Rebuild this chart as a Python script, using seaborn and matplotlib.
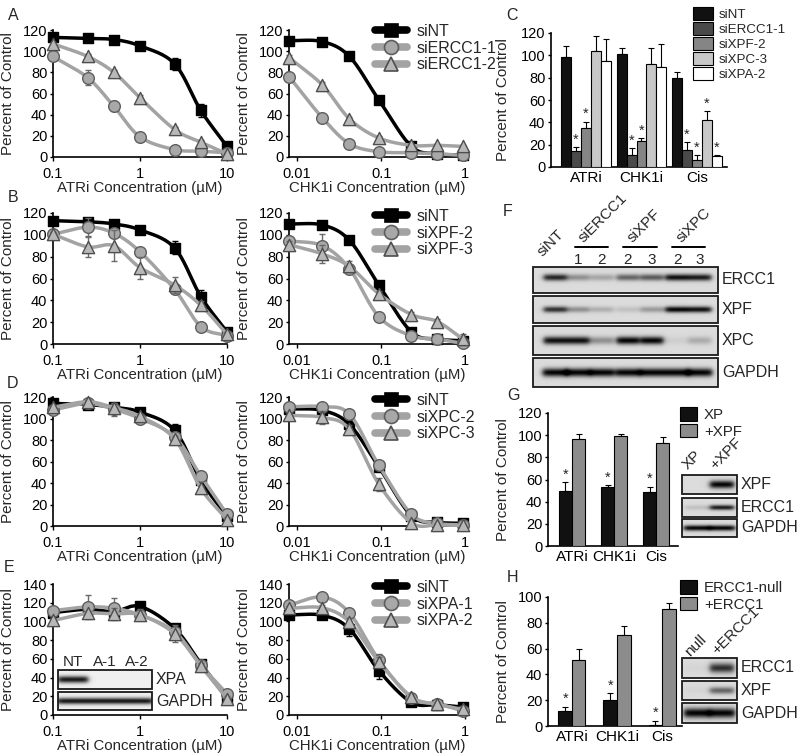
import numpy as np
import pandas as pd
import matplotlib
matplotlib.use("Agg")
import matplotlib.pyplot as plt
import seaborn as sns
from matplotlib.lines import Line2D
from matplotlib.patches import Patch, Rectangle
from matplotlib.container import BarContainer
from matplotlib.ticker import NullLocator

sns.set_style("ticks")
plt.rcParams["font.family"] = ["Liberation Sans", "DejaVu Sans"]

# ---------------- data ----------------
ATRI_CONC = [0.1, 0.25, 0.5, 1, 2.5, 5, 10]
CHK1_CONC = [0.008, 0.02, 0.042, 0.094, 0.23, 0.47, 0.94]

# Panel A (ERCC1)
A_atr_siNT = [113, 112, 111, 105, 88, 44, 10]
A_atr_siNT_err = [2, 2, 2, 2, 6, 6, 2]
A_atr_E1 = [95, 75, 48, 19, 7, 5.5, 4]
A_atr_E1_err = [2, 7, 5, 2, 1, 1, 1]
A_atr_E2 = [107, 95, 80, 56, 26, 14, 3]
A_atr_E2_err = [2, 2, 2, 3, 2, 2, 1]
A_chk_siNT = [110, 109, 95, 54, 10, 3, 2]
A_chk_siNT_err = [2, 2, 2, 2, 1, 1, 1]
A_chk_E1 = [76, 37, 12.5, 5, 4, 3, 1.5]
A_chk_E1_err = [2, 2, 2, 1, 1, 1, 1]
A_chk_E2 = [94, 68, 36, 18, 11, 11, 10]
A_chk_E2_err = [2, 3, 2, 2, 1, 1, 1]

# Panel B (XPF)
B_atr_siNT = [113, 112, 110, 104.5, 88, 43.5, 11]
B_atr_siNT_err = [2, 2, 2, 2, 6, 6, 2]
B_atr_F2 = [100.5, 107, 101.5, 84.5, 50, 16, 7.5]
B_atr_F2_err = [2, 8, 3, 3, 2, 2, 2]
B_atr_F3 = [100.5, 89, 90, 70, 54, 35.5, 9]
B_atr_F3_err = [2, 9, 14, 10, 7, 4, 2]
B_chk_siNT = [110, 109, 95, 54, 11, 4.5, 3]
B_chk_siNT_err = [2, 2, 2, 2, 1, 1, 1]
B_chk_F2 = [94.5, 90, 69, 25, 7.5, 4.5, 0.6]
B_chk_F2_err = [3, 11, 3, 2, 1, 1, 1]
B_chk_F3 = [91, 82.5, 71, 46, 27, 20.5, 4.5]
B_chk_F3_err = [3, 8, 5, 3, 2, 2, 5]

# Panel D (XPC)
D_atr_siNT = [114, 113, 110.5, 106, 89, 42.5, 9]
D_atr_siNT_err = [3, 2, 3, 3, 6, 3, 2]
D_atr_C2 = [108, 114, 108.5, 100, 83, 46.5, 11]
D_atr_C2_err = [2, 4, 6, 4, 3, 2, 2]
D_atr_C3 = [110.5, 115.5, 110, 102, 81, 35, 6]
D_atr_C3_err = [2, 2, 4, 2, 3, 2, 2]
D_chk_siNT = [109, 107.5, 94.5, 55, 9.5, 3.5, 2.5]
D_chk_siNT_err = [2, 2, 2, 3, 2, 1, 1]
D_chk_C2 = [111, 111, 104, 56.5, 11, 2.5, 1]
D_chk_C2_err = [2, 2, 2, 3, 2, 1, 1]
D_chk_C3 = [103, 101, 90, 39, 3, 1, 0.6]
D_chk_C3_err = [2, 6, 4, 6, 2, 1, 1]

# Panel E (XPA)
E_atr_siNT = [109.5, 113, 110.5, 116, 92.5, 55, 18]
E_atr_siNT_err = [3, 3, 3, 3, 4, 3, 3]
E_atr_A1 = [111.5, 115.5, 114, 107, 89, 53.5, 22.5]
E_atr_A1_err = [3, 13, 11, 4, 4, 3, 3]
E_atr_A2 = [101, 108.5, 108, 107, 87, 52.5, 17.5]
E_atr_A2_err = [3, 3, 6, 6, 9, 3, 3]
E_chk_siNT = [107, 106.5, 92, 47.5, 13.5, 11, 8.5]
E_chk_siNT_err = [4, 3, 8, 9, 3, 2, 2]
E_chk_A1 = [117.5, 126, 109, 59, 18.5, 12, 4.5]
E_chk_A1_err = [3, 2, 4, 6, 3, 2, 2]
E_chk_A2 = [114, 114.5, 99.5, 57, 19.5, 11.5, 6]
E_chk_A2_err = [3, 3, 4, 5, 3, 2, 2]

# Panel C (bars)
C_DRUGS = ["ATRi", "CHK1i", "Cis"]
C_GROUPS = ["siNT", "siERCC1-1", "siXPF-2", "siXPC-3", "siXPA-2"]
C_siNT = [98.5, 101, 79.5]
C_siNT_err = [9.5, 5.5, 6]
C_siERCC1 = [14.5, 11, 15.5]
C_siERCC1_err = [3, 6, 7]
C_siXPF = [35, 23.5, 6.5]
C_siXPF_err = [5.5, 2.5, 4]
C_siXPC = [104, 92.5, 42]
C_siXPC_err = [13, 14, 8]
C_siXPA = [94.5, 89.5, 10]
C_siXPA_err = [20.5, 20.5, 0.3]
C_STAR = [[False, True, True, False, False],
          [False, True, True, False, False],
          [False, True, True, True, True]]

# Panel G
G_GROUPS = ["XP", "+XPF"]
G_XP = [50, 53, 49]
G_XP_err = [7.5, 2, 4.5]
G_XPF = [96.5, 99.5, 93]
G_XPF_err = [5, 2, 5]

# Panel H
H_GROUPS = ["ERCC1-null", "+ERCC1"]
H_null = [11.5, 20, 0.5]
H_null_err = [3.5, 5.5, 3.5]
H_ERCC1 = [51.5, 70.5, 91]
H_ERCC1_err = [8, 7, 4.5]

# ---------------- styles ----------------
GRAY_LINE = "#a3a3a3"
STY = {
    "sq": dict(line="black", mfc="black", mec="black", marker="s", ms=7.8, ecol="black"),
    "ci": dict(line=GRAY_LINE, mfc="#a8a8a8", mec="#5e5e5e", marker="o", ms=8.4, ecol="#6a6a6a"),
    "tr": dict(line=GRAY_LINE, mfc="#b8b8b8", mec="#4e4e4e", marker="^", ms=8.8, ecol="#6a6a6a"),
}

W, H = 800, 756
fig = plt.figure(figsize=(8, 7.56), dpi=100)


def px_axes(x0, x1, ytop, ybot):
    return fig.add_axes([x0 / W, 1 - ybot / H, (x1 - x0) / W, (ybot - ytop) / H])


def smooth(xs, ys, n=30):
    P = np.column_stack([np.log10(xs), np.asarray(ys, float)])
    P = np.vstack([2 * P[0] - P[1], P, 2 * P[-1] - P[-2]])
    t = np.linspace(0, 1, n, endpoint=False)[:, None]
    out = []
    for i in range(1, len(P) - 2):
        p0, p1, p2, p3 = P[i - 1], P[i], P[i + 1], P[i + 2]
        out.append(0.5 * (2 * p1 + (-p0 + p2) * t + (2 * p0 - 5 * p1 + 4 * p2 - p3) * t ** 2
                          + (-p0 + 3 * p1 - 3 * p2 + p3) * t ** 3))
    out.append(P[-2][None, :])
    Q = np.vstack(out)
    return 10 ** Q[:, 0], Q[:, 1]


def style_axis(ax):
    for s in ["top", "right"]:
        ax.spines[s].set_visible(False)
    for s in ["left", "bottom"]:
        ax.spines[s].set_color("black")
        ax.spines[s].set_linewidth(1.2)
    ax.tick_params(axis="both", labelsize=10.5, width=1, colors="black")
    ax.tick_params(axis="y", length=2.5, pad=1.5)
    ax.tick_params(axis="x", length=3, pad=4)


def curve_panel(ax, conc, series, xticks, xticklabels, xlabel, ymax, legend=None, legend_top=None):
    for i, (lab, vals, errs, key) in enumerate(series):
        st = STY[key]
        xs, ys = smooth(conc, vals)
        ax.plot(xs, ys, color=st["line"], lw=2.5, zorder=3 + 2 * i, clip_on=False, solid_capstyle="round")
        ax.errorbar(conc, vals, yerr=errs, fmt="none", ecolor=st["ecol"], elinewidth=1.0,
                    capsize=2.4, capthick=1.0, zorder=3.5 + 2 * i, clip_on=False)
        sns.scatterplot(x=conc, y=vals, marker=st["marker"], s=st["ms"] ** 2, color=st["mfc"],
                        edgecolor=st["mec"], linewidth=1.0, ax=ax, zorder=4 + 2 * i, clip_on=False,
                        legend=False)
    ax.set_xscale("log")
    ax.set_xlim(conc[0], xticks[-1])
    ax.set_ylim(0, ymax)
    ax.set_xticks(xticks)
    ax.set_xticklabels(xticklabels)
    ax.xaxis.set_minor_locator(NullLocator())
    ax.set_yticks(np.arange(0, ymax + 1, 20))
    ax.set_xlabel(xlabel, fontsize=10.8, labelpad=0.5)
    ax.set_ylabel("Percent of Control", fontsize=11)
    style_axis(ax)
    if legend:
        handles = []
        for lab, vals, errs, key in series:
            st = STY[key]
            handles.append(Line2D([], [], color=st["line"], lw=5.5, marker=st["marker"],
                                  ms=st["ms"] * 1.2, mfc=st["mfc"], mec=st["mec"], mew=1.2))
        ax.legend(handles, [s[0] for s in series], loc="upper left",
                  bbox_to_anchor=(375 / W, 1 - legend_top / H), bbox_transform=fig.transFigure,
                  frameon=False, fontsize=11.5, handlelength=2.0, handletextpad=0.6,
                  labelspacing=0.1, borderpad=0, borderaxespad=0)


rows = [
    (30, 157, 120, "A",
     [("siNT", A_atr_siNT, A_atr_siNT_err, "sq"), ("siERCC1-1", A_atr_E1, A_atr_E1_err, "ci"),
      ("siERCC1-2", A_atr_E2, A_atr_E2_err, "tr")],
     [("siNT", A_chk_siNT, A_chk_siNT_err, "sq"), ("siERCC1-1", A_chk_E1, A_chk_E1_err, "ci"),
      ("siERCC1-2", A_chk_E2, A_chk_E2_err, "tr")], 24),
    (213, 344, 120, "B",
     [("siNT", B_atr_siNT, B_atr_siNT_err, "sq"), ("siXPF-2", B_atr_F2, B_atr_F2_err, "ci"),
      ("siXPF-3", B_atr_F3, B_atr_F3_err, "tr")],
     [("siNT", B_chk_siNT, B_chk_siNT_err, "sq"), ("siXPF-2", B_chk_F2, B_chk_F2_err, "ci"),
      ("siXPF-3", B_chk_F3, B_chk_F3_err, "tr")], 209),
    (397, 526, 120, "D",
     [("siNT", D_atr_siNT, D_atr_siNT_err, "sq"), ("siXPC-2", D_atr_C2, D_atr_C2_err, "ci"),
      ("siXPC-3", D_atr_C3, D_atr_C3_err, "tr")],
     [("siNT", D_chk_siNT, D_chk_siNT_err, "sq"), ("siXPC-2", D_chk_C2, D_chk_C2_err, "ci"),
      ("siXPC-3", D_chk_C3, D_chk_C3_err, "tr")], 393),
    (584, 715, 140, "E",
     [("siNT", E_atr_siNT, E_atr_siNT_err, "sq"), ("siXPA-1", E_atr_A1, E_atr_A1_err, "ci"),
      ("siXPA-2", E_atr_A2, E_atr_A2_err, "tr")],
     [("siNT", E_chk_siNT, E_chk_siNT_err, "sq"), ("siXPA-1", E_chk_A1, E_chk_A1_err, "ci"),
      ("siXPA-2", E_chk_A2, E_chk_A2_err, "tr")], 580),
]

for ytop, ybot, ymax, letter, s_atr, s_chk, leg_top in rows:
    axL = px_axes(53, 227, ytop, ybot)
    curve_panel(axL, ATRI_CONC, s_atr, [0.1, 1, 10], ["0.1", "1", "10"],
                "ATRi Concentration (\u00b5M)", ymax)
    axL.yaxis.set_label_coords((15 - 53) / 174, 0.5)
    axR = px_axes(289, 465, ytop, ybot)
    curve_panel(axR, CHK1_CONC, s_chk, [0.01, 0.1, 1], ["0.01", "0.1", "1"],
                "CHK1i Concentration (\u00b5M)", ymax, legend=True, legend_top=leg_top)
    axR.yaxis.set_label_coords((251 - 289) / 176, 0.5)


# ---------------- bar panels ----------------
def bar_panel(ax, drugs, groups, vals, errs, colors, width, xlim, ymax, stars, ylab_x):
    rec = []
    for g, v in zip(groups, vals):
        for d, val in zip(drugs, v):
            rec.append(dict(drug=d, cond=g, value=val))
    df = pd.DataFrame(rec)
    sns.barplot(data=df, x="drug", y="value", hue="cond", hue_order=groups, order=drugs,
                palette=dict(zip(groups, colors)), saturation=1, errorbar=None, width=width,
                edgecolor="black", linewidth=0.8, ax=ax, legend=False, zorder=3)
    bars = [c for c in ax.containers if isinstance(c, BarContainer)]
    for gi, cont in enumerate(bars):
        xs = [b.get_x() + b.get_width() / 2 for b in cont.patches]
        v = np.asarray(vals[gi]); e = np.asarray(errs[gi])
        ax.errorbar(xs, v, yerr=[np.zeros_like(e), e], fmt="none", ecolor="black",
                    elinewidth=0.8, capsize=2.5, capthick=0.8, zorder=2)
        for di, x in enumerate(xs):
            if stars[di][gi]:
                ax.text(x, v[di] + e[di] + 0.5, "*", ha="center", va="bottom", fontsize=10.5)
    ax.set_xlim(*xlim)
    ax.set_ylim(0, ymax)
    ax.set_yticks(np.arange(0, ymax + 1, 20))
    ax.set_xlabel("")
    ax.set_ylabel("Percent of Control", fontsize=11)
    ax.yaxis.set_label_coords(ylab_x, 0.5)
    style_axis(ax)
    ax.tick_params(axis="x", length=0, labelsize=11, pad=3)


C_COLORS = ["#111111", "#4a4a4a", "#858585", "#c8c8c8", "#ffffff"]
axC = px_axes(551, 727, 33, 167)
bar_panel(axC, C_DRUGS, C_GROUPS,
          [C_siNT, C_siERCC1, C_siXPF, C_siXPC, C_siXPA],
          [C_siNT_err, C_siERCC1_err, C_siXPF_err, C_siXPC_err, C_siXPA_err],
          C_COLORS, 0.9, (-0.63, 2.54), 120, C_STAR, (510 - 551) / 176)
axC.legend([Patch(fc=c, ec="black", lw=0.8) for c in C_COLORS],
           C_GROUPS, loc="upper left", bbox_to_anchor=(693 / W, 1 - 7 / H), bbox_transform=fig.transFigure,
           frameon=False, fontsize=9.6, handlelength=1.5, handleheight=1.1, handletextpad=0.4,
           labelspacing=0.08, borderpad=0, borderaxespad=0)

axG = px_axes(548, 678, 413, 546)
bar_panel(axG, C_DRUGS, G_GROUPS, [G_XP, G_XPF], [G_XP_err, G_XPF_err],
          ["#111111", "#8c8c8c"], 0.62, (-0.57, 2.52), 120,
          [[True, False], [True, False], [True, False]], (510 - 548) / 130)
axG.legend([Patch(fc=c, ec="black", lw=0.8) for c in ["#111111", "#8c8c8c"]], G_GROUPS,
           loc="upper left", bbox_to_anchor=(680 / W, 1 - 407 / H), bbox_transform=fig.transFigure,
           frameon=False, fontsize=10.8, handlelength=1.1, handleheight=1.05, handletextpad=0.5,
           labelspacing=0.1, borderpad=0, borderaxespad=0)

axH = px_axes(548, 682, 597, 726)
bar_panel(axH, C_DRUGS, H_GROUPS, [H_null, H_ERCC1], [H_null_err, H_ERCC1_err],
          ["#111111", "#8c8c8c"], 0.6, (-0.53, 2.44), 100,
          [[True, False], [True, False], [True, False]], (510 - 548) / 134)
axH.legend([Patch(fc=c, ec="black", lw=0.8) for c in ["#111111", "#8c8c8c"]], H_GROUPS,
           loc="upper left", bbox_to_anchor=(680 / W, 1 - 580 / H), bbox_transform=fig.transFigure,
           frameon=False, fontsize=10.8, handlelength=1.1, handleheight=1.05, handletextpad=0.5,
           labelspacing=0.1, borderpad=0, borderaxespad=0)

# ---------------- overlay: panel letters and blots ----------------
ov = fig.add_axes([0, 0, 1, 1])
ov.set_xlim(0, W)
ov.set_ylim(H, 0)
ov.axis("off")

for letter, x, y in [("A", 13, 15), ("B", 13, 198), ("D", 12, 383), ("E", 9, 568),
                     ("C", 512, 15), ("F", 508, 212), ("G", 513, 395), ("H", 513, 577)]:
    ov.text(x, y, letter, fontsize=11.5, ha="center", va="center")

# blot intensities
F_LANES = [555, 578, 602, 628, 652, 677, 700]
F_ERCC1 = [0.85, 0.35, 0.25, 0.55, 0.6, 0.95, 0.9]
F_XPF = [0.8, 0.35, 0.2, 0.12, 0.3, 1.0, 0.95]
F_XPC = [0.95, 0.95, 0.35, 1.0, 1.0, 0.06, 0.22]
F_GAPDH = [1, 1, 1, 1, 1, 1, 1]
G_LANES = [697, 722]
G_BLOT_XPF = [0.0, 1.0]
G_BLOT_ERCC1 = [0.12, 0.9]
G_BLOT_GAPDH = [1.0, 1.0]
H_BLOT_ERCC1 = [0.03, 0.8]
H_BLOT_XPF = [0.03, 0.55]
H_BLOT_GAPDH = [1.0, 1.0]
E_LANES = [73, 105, 137]
E_BLOT_XPA = [1.0, 0.0, 0.0]
E_BLOT_GAPDH = [1.0, 1.0, 1.0]


def blot(x0, x1, y0, y1, lanes, intens, lane_w, bg=0.86, yc=0.5, sig=2.6, label=None, fs=11.5):
    X = np.linspace(x0, x1, 300)
    Y = np.linspace(y0, y1, 60)
    img = np.full((Y.size, X.size), bg)
    ycen = y0 + yc * (y1 - y0)
    py = np.exp(-0.5 * ((Y - ycen) / sig) ** 2)
    for lx, I in zip(lanes, intens):
        pxp = 1 / (1 + np.exp((np.abs(X - lx) - lane_w / 2) / 1.5))
        img -= I * 0.85 * np.outer(py, pxp)
    img = np.clip(img, 0, 1)
    ov.imshow(img, cmap="gray", vmin=0, vmax=1, extent=(x0, x1, y1, y0), aspect="auto",
              interpolation="bilinear", zorder=5)
    ov.add_patch(Rectangle((x0, y0), x1 - x0, y1 - y0, fill=False, ec="#1a1a1a", lw=1.3, zorder=6))
    if label:
        ov.text(x1 + 4, (y0 + y1) / 2, label, fontsize=fs, ha="left", va="center", zorder=6)


# F
blot(533, 718, 267, 293, F_LANES, F_ERCC1, 23, yc=0.4, sig=2.4, label="ERCC1")
blot(533, 718, 296, 323, F_LANES, F_XPF, 23, yc=0.5, sig=2.2, label="XPF")
blot(533, 718, 326, 355, F_LANES, F_XPC, 23, yc=0.5, sig=2.8, label="XPC")
blot(533, 718, 358, 387, F_LANES, F_GAPDH, 25, yc=0.5, sig=3.0, label="GAPDH")
for txt, x, y in [("siNT", 543, 257), ("siERCC1", 584, 243), ("siXPF", 633, 243), ("siXPC", 682, 243)]:
    ov.text(x, y, txt, rotation=45, rotation_mode="anchor", ha="left", va="baseline", fontsize=11)
for xa, xb in [(575, 608), (623, 657), (672, 705)]:
    ov.plot([xa, xb], [247, 247], color="black", lw=1.4)
for txt, x in zip(["1", "2", "2", "3", "2", "3"], F_LANES[1:]):
    ov.text(x, 260, txt, ha="center", va="center", fontsize=11)

# G inset
blot(682, 737, 475, 494, G_LANES, G_BLOT_XPF, 24, sig=2.8, label="XPF")
blot(682, 737, 498, 517, G_LANES, G_BLOT_ERCC1, 24, sig=1.8, label="ERCC1")
blot(682, 737, 519, 537, G_LANES, G_BLOT_GAPDH, 26, sig=2.0, label="GAPDH")
ov.text(688, 470, "XP", rotation=45, rotation_mode="anchor", ha="left", va="baseline", fontsize=11)
ov.text(715, 470, "+XPF", rotation=45, rotation_mode="anchor", ha="left", va="baseline", fontsize=11)

# H inset
blot(682, 737, 658, 678, G_LANES, H_BLOT_ERCC1, 24, sig=3.5, label="ERCC1")
blot(682, 737, 681, 700, G_LANES, H_BLOT_XPF, 24, sig=2.5, label="XPF")
blot(682, 737, 703, 723, G_LANES, H_BLOT_GAPDH, 26, sig=3.5, label="GAPDH")
ov.text(690, 657, "null", rotation=45, rotation_mode="anchor", ha="left", va="baseline", fontsize=11)
ov.text(717, 655, "+ERCC1", rotation=45, rotation_mode="anchor", ha="left", va="baseline", fontsize=11)

# E inset
blot(58, 152, 670, 689, E_LANES, E_BLOT_XPA, 30, bg=0.94, sig=2.5, label="XPA")
blot(58, 152, 692, 710, E_LANES, E_BLOT_GAPDH, 32, bg=0.94, sig=2.3, label="GAPDH")
for txt, x in zip(["NT", "A-1", "A-2"], E_LANES):
    ov.text(x, 662, txt, ha="center", va="center", fontsize=11)

ov.set_xlim(0, W)
ov.set_ylim(H, 0)

fig.savefig("out.png", dpi=100, facecolor="white")
